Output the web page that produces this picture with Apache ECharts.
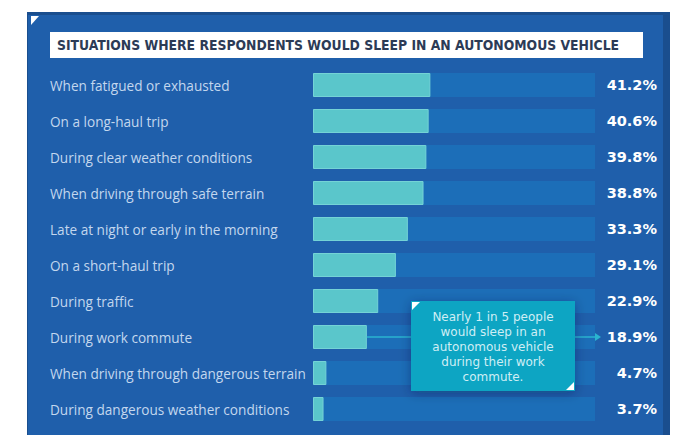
<!DOCTYPE html>
<html>
<head>
<meta charset="utf-8">
<script src="https://cdn.jsdelivr.net/npm/echarts@6/dist/echarts.min.js"></script>
<style>
  html, body { margin: 0; padding: 0; background: #ffffff; }
  #chart { width: 684px; height: 435px; }
</style>
</head>
<body>
<div id="chart"></div>
<script>
// Survey: situations where respondents would sleep in an autonomous vehicle (%)
const chartTitle = 'SITUATIONS WHERE RESPONDENTS WOULD SLEEP IN AN AUTONOMOUS VEHICLE';
const situations = [
  'When fatigued or exhausted',
  'On a long-haul trip',
  'During clear weather conditions',
  'When driving through safe terrain',
  'Late at night or early in the morning',
  'On a short-haul trip',
  'During traffic',
  'During work commute',
  'When driving through dangerous terrain',
  'During dangerous weather conditions'
];
const shares = [41.2, 40.6, 39.8, 38.8, 33.3, 29.1, 22.9, 18.9, 4.7, 3.7];
const calloutCategory = 'During work commute';
const calloutLines = [
  'Nearly 1 in 5 people',
  'would sleep in an',
  'autonomous vehicle',
  'during their work',
  'commute.'
];

const PANEL = '#1f5fab';
const TRACK = '#1c6eb8';
const TEAL = '#5ac6cb';
const LABEL = '#c3d7ee';

const chart = echarts.init(document.getElementById('chart'), null, { renderer: 'svg' });

const frame = [
  { type: 'rect', z: -10, shape: { x: 27, y: 12, width: 643, height: 430 }, style: { fill: '#1a4e8e' } },
  { type: 'rect', z: -9, shape: { x: 28, y: 15, width: 635, height: 430 }, style: { fill: PANEL } },
  { type: 'polygon', z: -8, shape: { points: [[31, 16], [39, 16], [31, 25]] }, style: { fill: '#ffffff' } },
  { type: 'rect', z: -8, shape: { x: 50, y: 32, width: 593, height: 26 }, style: { fill: '#ffffff' } },
  { type: 'text', z: -7, x: 57, y: 45,
    style: { text: chartTitle, fill: '#2c3b56', font: 'bold 13.8px "DejaVu Sans Condensed", "DejaVu Sans"', verticalAlign: 'middle' } }
];

chart.setOption({
  animation: false,
  grid: { left: 313, top: 67, width: 282, height: 360, containLabel: false },
  xAxis: { type: 'value', min: 0, max: 99, show: false },
  yAxis: [
    {
      type: 'category', data: situations, inverse: true,
      axisLine: { show: false }, axisTick: { show: false }, splitLine: { show: false },
      axisLabel: { align: 'left', margin: 263, color: LABEL, fontSize: 13.6,
        fontFamily: '"Open Sans", Roboto, "DejaVu Sans"' }
    },
    {
      type: 'category', data: shares.map(v => v.toFixed(1) + '%'), inverse: true, position: 'right',
      axisLine: { show: false }, axisTick: { show: false }, splitLine: { show: false },
      axisLabel: { align: 'right', margin: 62, color: '#ffffff', fontSize: 14.5, fontWeight: 'bold',
        fontFamily: '"DejaVu Sans", Roboto' }
    }
  ],
  series: [{
    type: 'bar', data: shares, barWidth: 24, yAxisIndex: 0,
    showBackground: true,
    backgroundStyle: { color: TRACK },
    itemStyle: { color: TEAL, borderColor: '#74d3d6', borderWidth: 1 }
  }],
  graphic: frame
});

// Callout box tied to the commute bar
const idx = situations.indexOf(calloutCategory);
const end = chart.convertToPixel({ gridIndex: 0 }, [shares[idx], idx]);
const trackEnd = chart.convertToPixel({ gridIndex: 0 }, [99, idx]);
const box = { x: 411, y: 301, w: 164, h: 90 };
const cy = end[1];
const lineColor = '#2ab4d0';

const callout = [
  { type: 'line', z: 5, shape: { x1: end[0], y1: cy, x2: box.x, y2: cy }, style: { stroke: lineColor, lineWidth: 1.5 } },
  { type: 'line', z: 5, shape: { x1: box.x + box.w, y1: cy, x2: trackEnd[0], y2: cy }, style: { stroke: lineColor, lineWidth: 1.5 } },
  { type: 'polygon', z: 5, shape: { points: [[trackEnd[0], cy - 4], [trackEnd[0] + 6, cy], [trackEnd[0], cy + 4]] }, style: { fill: lineColor } },
  { type: 'rect', z: 6, shape: { x: box.x, y: box.y, width: box.w, height: box.h },
    style: { fill: '#0ca5c3', shadowBlur: 12, shadowColor: 'rgba(0,20,60,0.35)', shadowOffsetX: 0, shadowOffsetY: 2 } },
  { type: 'polygon', z: 7, shape: { points: [[box.x + 1, box.y + 1], [box.x + 9, box.y + 1], [box.x + 1, box.y + 9]] }, style: { fill: '#ffffff' } },
  { type: 'polygon', z: 7, shape: { points: [[box.x + box.w - 1, box.y + box.h - 1], [box.x + box.w - 9, box.y + box.h - 1], [box.x + box.w - 1, box.y + box.h - 9]] }, style: { fill: '#ffffff' } },
  { type: 'text', z: 8, x: box.x + box.w / 2, y: box.y + box.h / 2 + 1,
    style: { text: calloutLines.join('\n'), fill: '#cfeef5', font: '12px "DejaVu Sans", Roboto',
      lineHeight: 15, align: 'center', verticalAlign: 'middle' } }
];

chart.setOption({ graphic: frame.concat(callout) });
</script>
</body>
</html>
